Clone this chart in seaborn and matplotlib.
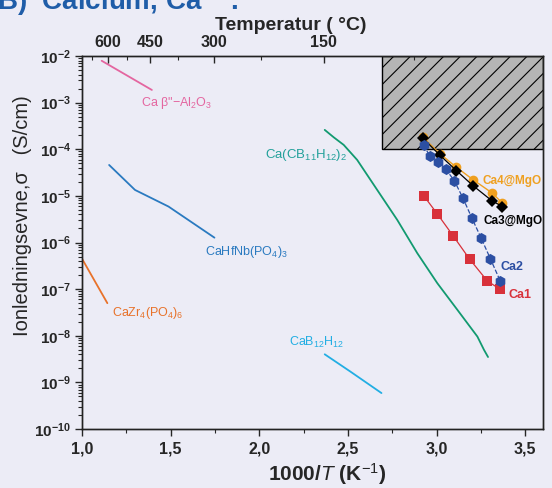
import numpy as np
import matplotlib
matplotlib.use('Agg')
import matplotlib.pyplot as plt
import seaborn as sns
from matplotlib.patches import Rectangle

sns.set_style('ticks')
plt.rcParams['font.family'] = ['Liberation Sans', 'DejaVu Sans']
plt.rcParams['mathtext.fontset'] = 'custom'
plt.rcParams['mathtext.rm'] = 'Liberation Sans'
plt.rcParams['mathtext.it'] = 'Liberation Sans:italic'
plt.rcParams['mathtext.bf'] = 'Liberation Sans:bold'
plt.rcParams['hatch.linewidth'] = 0.8

BG = '#ECECF6'

# litteraturdata (1000/T, S/cm)
al2o3_x = [1.111, 1.394]
al2o3_y = [7.9e-3, 1.87e-3]
hfnb_x = [1.153, 1.299, 1.488, 1.747]
hfnb_y = [4.6e-5, 1.34e-5, 5.9e-6, 1.27e-6]
zr_x = [1.0, 1.143]
zr_y = [4.5e-7, 5.0e-8]
cb11_x = [2.369, 2.42, 2.476, 2.552, 2.665, 2.778, 2.891, 3.004, 3.117, 3.230, 3.267, 3.290]
cb11_y = [2.6e-4, 1.8e-4, 1.24e-4, 5.9e-5, 1.34e-5, 3.05e-6, 5.9e-7, 1.34e-7, 3.6e-8, 9.6e-9, 5.0e-9, 3.5e-9]
b12_x = [2.369, 2.514, 2.689]
b12_y = [4.0e-9, 1.7e-9, 5.9e-10]

# egne målinger
ca1_x = [2.928, 3.004, 3.092, 3.186, 3.286, 3.356]
ca1_y = [1.0e-5, 4.1e-6, 1.41e-6, 4.4e-7, 1.5e-7, 1.0e-7]
ca2_x = [2.928, 2.960, 3.007, 3.051, 3.100, 3.149, 3.198, 3.250, 3.303, 3.358]
ca2_y = [1.24e-4, 7.2e-5, 5.4e-5, 3.8e-5, 2.1e-5, 8.9e-6, 3.4e-6, 1.27e-6, 4.5e-7, 1.52e-7]
ca3_x = [2.923, 3.017, 3.111, 3.205, 3.311, 3.371]
ca3_y = [1.72e-4, 7.55e-5, 3.5e-5, 1.66e-5, 7.9e-6, 5.9e-6]
ca4_x = [2.921, 3.017, 3.107, 3.207, 3.315, 3.371]
ca4_y = [1.84e-4, 8.1e-5, 4.24e-5, 2.2e-5, 1.14e-5, 6.95e-6]

x_ticks = [1.0, 1.5, 2.0, 2.5, 3.0, 3.5]
x_ticklabels = ['1,0', '1,5', '2,0', '2,5', '3,0', '3,5']
y_exp = [-2, -3, -4, -5, -6, -7, -8, -9, -10]
temp_major = [600, 450, 300, 150]
temp_minor = [675, 525, 375, 225, 75]

fig = plt.figure(figsize=(5.52, 4.88), dpi=100, facecolor=BG)
ax = fig.add_axes([82/552, 1-429/488, (543-82)/552, (429-56)/488])
ax.set_facecolor(BG)
ax.set_yscale('log')
ax.set_xlim(1.0, 3.6)
ax.set_ylim(1e-10, 1e-2)

# målområde
ax.add_patch(Rectangle((2.69, 1e-4), 3.6-2.69, 1e-2-1e-4, facecolor='#B5B5B5',
                       edgecolor='black', hatch='//', lw=1.0, zorder=1))

lw = 1.3
sns.lineplot(x=al2o3_x, y=al2o3_y, ax=ax, color='#E466A0', lw=lw)
sns.lineplot(x=hfnb_x, y=hfnb_y, ax=ax, color='#2A7AC0', lw=lw)
sns.lineplot(x=zr_x, y=zr_y, ax=ax, color='#E8722A', lw=lw)
sns.lineplot(x=cb11_x, y=cb11_y, ax=ax, color='#129A70', lw=lw)
sns.lineplot(x=b12_x, y=b12_y, ax=ax, color='#22AEE3', lw=lw)

sns.lineplot(x=ca1_x, y=ca1_y, ax=ax, color='#D8313A', lw=0.9, marker='s',
             markersize=6.5, markeredgewidth=0, zorder=3)
sns.lineplot(x=ca4_x, y=ca4_y, ax=ax, color='#EFA020', lw=1.0, marker='o',
             markersize=7, markeredgewidth=0, zorder=3)
sns.lineplot(x=ca3_x, y=ca3_y, ax=ax, color='black', lw=0.9, marker='D',
             markersize=6.5, markeredgewidth=0, zorder=4)
sns.lineplot(x=ca2_x, y=ca2_y, ax=ax, color='#2C4FA3', lw=0.9, linestyle='--',
             marker='h', markersize=8, markeredgewidth=0, zorder=5)

fs = 9
ax.text(1.333, 1e-3, 'Ca β"−Al$_2$O$_3$', color='#E466A0', fontsize=fs, va='center')
ax.text(1.695, 6.4e-7, 'CaHfNb(PO$_4$)$_3$', color='#2A7AC0', fontsize=fs, va='center')
ax.text(1.168, 3.1e-8, 'CaZr$_4$(PO$_4$)$_6$', color='#E8722A', fontsize=fs, va='center')
ax.text(2.030, 7.55e-5, 'Ca(CB$_{11}$H$_{12}$)$_2$', color='#22A09A', fontsize=9.5, va='center')
ax.text(2.166, 7.05e-9, 'CaB$_{12}$H$_{12}$', color='#22AEE3', fontsize=fs, va='center')
ax.text(3.258, 2.09e-5, 'Ca4@MgO', color='#EFA020', fontsize=8.5, fontweight='bold', va='center')
ax.text(3.264, 2.95e-6, 'Ca3@MgO', color='black', fontsize=8.5, fontweight='bold', va='center')
ax.text(3.358, 3.04e-7, 'Ca2', color='#2C4FA3', fontsize=9, fontweight='bold', va='center')
ax.text(3.405, 7.3e-8, 'Ca1', color='#D8313A', fontsize=9, fontweight='bold', va='center')

# akser
for s in ax.spines.values():
    s.set_linewidth(1.0)
    s.set_color('#222222')
ax.set_xticks(x_ticks)
ax.set_xticklabels(x_ticklabels, fontweight='bold', fontsize=11.5)
ax.set_xticks(np.arange(1.25, 3.6, 0.5), minor=True)
ax.set_yticks([10.0**e for e in y_exp])
ax.set_yticklabels([r'$\mathbf{10^{%d}}$' % e for e in y_exp], fontsize=11)
ax.tick_params(axis='both', which='major', direction='out', length=5, width=1, pad=4)
ax.tick_params(axis='both', which='minor', direction='out', length=3, width=0.8)
ax.tick_params(axis='y', which='major', pad=3)
ax.set_xlabel('1000/$\\mathit{T}$ (K$^{-1}$)', fontsize=15, fontweight='bold')
ax.xaxis.set_label_coords(0.531, -0.086)
ax.set_ylabel('Ionledningsevne,σ   (S/cm)', fontsize=14.5)
ax.yaxis.set_label_coords(-0.108, 0.571)

ax2 = ax.twiny()
ax2.set_xlim(ax.get_xlim())
ax2.set_xticks([1000/(t+273.15) for t in temp_major])
ax2.set_xticklabels([str(t) for t in temp_major], fontweight='bold', fontsize=11.5)
ax2.set_xticks([1000/(t+273.15) for t in temp_minor], minor=True)
ax2.tick_params(axis='x', which='major', direction='in', length=5, width=1, pad=4)
ax2.tick_params(axis='x', which='minor', direction='in', length=3, width=0.8)
ax2.set_xlabel('Temperatur ( °C)', fontsize=14, fontweight='bold')
ax2.xaxis.set_label_coords(0.453, 1.07)
for s in ax2.spines.values():
    s.set_linewidth(1.0)
    s.set_color('#222222')

fig.text(-0.006, 1 - 10/488, 'B)  Calcium, Ca$^{2+}$.', color='#1F5DA8',
         fontsize=20, fontweight='bold', va='baseline', ha='left')

fig.savefig('out.png', dpi=100, facecolor=BG)
